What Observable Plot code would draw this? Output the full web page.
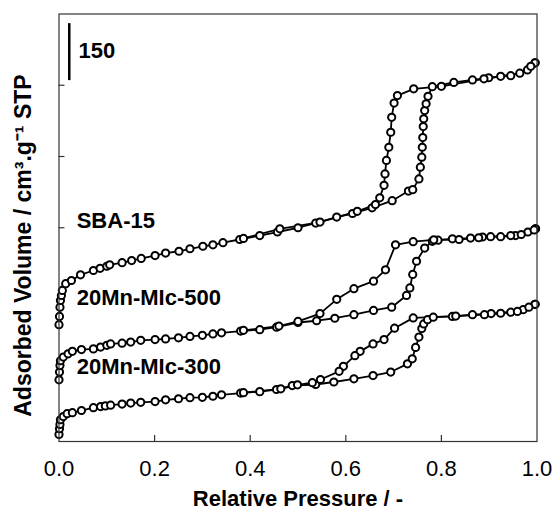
<!DOCTYPE html>
<html><head><meta charset="utf-8">
<script src="https://cdn.jsdelivr.net/npm/d3@7"></script>
<script src="https://cdn.jsdelivr.net/npm/@observablehq/plot@0.6"></script>
<style>body{margin:0;background:#fff}</style>
</head><body><div id="chart"></div>
<script>
// Relative pressure P/P0 and adsorbed volume (offset, arbitrary units)
const sba15AdsP = [0.000,0.001,0.002,0.003,0.005,0.007,0.014,0.026,0.045,0.072,0.086,0.100,0.106,0.132,0.152,0.172,0.201,0.223,0.251,0.274,0.301,0.322,0.343,0.378,0.420,0.457,0.500,0.537,0.581,0.614,0.655,0.697,0.731,0.740,0.753,0.756,0.759,0.760,0.761,0.762,0.763,0.765,0.768,0.772,0.781,0.826,0.865,0.899,0.945,0.980,0.996];
const sba15AdsV = [328,351,377,396,410,424,443,452,468,480,486,492,496,502,508,514,522,529,534,541,548,552,558,567,578,588,600,613,630,640,656,676,703,707,737,770,798,826,853,884,906,929,948,969,996,1008,1015,1021,1027,1043,1063];
const sba15DesP = [0.996,0.987,0.964,0.924,0.889,0.800,0.742,0.708,0.701,0.696,0.694,0.690,0.685,0.682,0.680,0.671,0.662,0.624,0.546,0.462,0.386];
const sba15DesV = [1063,1053,1034,1025,1018,997,990,971,950,910,868,826,789,751,719,684,665,646,616,597,570];

const mn500AdsP = [0.000,0.001,0.002,0.003,0.009,0.019,0.028,0.047,0.072,0.087,0.100,0.108,0.132,0.150,0.171,0.201,0.223,0.250,0.274,0.300,0.322,0.340,0.380,0.420,0.455,0.500,0.539,0.577,0.617,0.658,0.696,0.727,0.734,0.740,0.748,0.765,0.781,0.793,0.823,0.861,0.886,0.924,0.955,0.981,0.997];
const mn500AdsV = [173,195,213,227,237,246,253,258,260,265,270,274,276,279,284,286,288,291,295,298,302,305,310,314,321,334,339,346,356,368,377,410,431,469,506,543,562,565,569,571,574,575,578,588,597];
const mn500DesP = [0.997,0.994,0.967,0.945,0.903,0.878,0.837,0.784,0.741,0.704,0.683,0.658,0.617,0.581,0.546,0.500,0.460,0.386];
const mn500DesV = [597,594,581,578,575,572,567,566,561,552,482,450,429,399,359,337,324,312];

const mn300AdsP = [0.000,0.001,0.002,0.003,0.009,0.017,0.028,0.047,0.072,0.087,0.097,0.108,0.132,0.150,0.171,0.201,0.223,0.250,0.274,0.300,0.322,0.340,0.380,0.420,0.455,0.488,0.537,0.575,0.617,0.657,0.694,0.729,0.739,0.746,0.753,0.759,0.763,0.771,0.783,0.823,0.865,0.904,0.945,0.971,0.996];
const mn300AdsV = [20,36,48,61,70,78,81,87,95,98,100,102,105,108,110,112,117,120,123,124,127,131,136,140,146,157,160,167,176,185,195,218,232,264,293,317,330,342,349,351,356,359,363,370,385];
const mn300DesP = [0.996,0.983,0.959,0.924,0.890,0.830,0.741,0.702,0.680,0.657,0.630,0.619,0.595,0.586,0.547,0.530,0.499,0.464,0.386];
const mn300DesV = [385,377,365,360,356,352,347,318,286,274,253,241,211,197,174,165,159,148,137];

const sampleNames = ["SBA-15", "20Mn-MIc-500", "20Mn-MIc-300"];
const labelP = [0.037, 0.037, 0.037];
const labelV = [620, 404, 208];

const xTicks = [0, 0.2, 0.4, 0.6, 0.8, 1.0];
const xInnerTicks = [0.2, 0.4, 0.6, 0.8];
const yTicks = [600, 800, 1000];
const scaleBarP = 0.0215;
const scaleBarV = [1013, 1173];
const scaleBarLabel = "150";
const scaleBarLabelV = 1096;
const xTitle = "Relative Pressure / -";
const yTitle = "Adsorbed Volume / cm\u00B3.g\u207B\u00B9 STP";

const series = [
  {name: sampleNames[0], branch: "ads", P: sba15AdsP, V: sba15AdsV},
  {name: sampleNames[0], branch: "des", P: sba15DesP, V: sba15DesV},
  {name: sampleNames[1], branch: "ads", P: mn500AdsP, V: mn500AdsV},
  {name: sampleNames[1], branch: "des", P: mn500DesP, V: mn500DesV},
  {name: sampleNames[2], branch: "ads", P: mn300AdsP, V: mn300AdsV},
  {name: sampleNames[2], branch: "des", P: mn300DesP, V: mn300DesV}
];
const rows = series.flatMap(s => s.P.map((p, i) => ({id: s.name + "-" + s.branch, p, v: s.V[i]})));
const labels = sampleNames.map((n, i) => ({n, p: labelP[i], v: labelV[i]}));

const font = "'Liberation Sans', Arial, sans-serif";
const chart = Plot.plot({
  width: 555, height: 510,
  marginLeft: 58.5, marginRight: 18.5, marginTop: 13.5, marginBottom: 69,
  style: {fontFamily: font, fontSize: "22px", background: "#fff", color: "#000"},
  x: {domain: [0, 1], axis: null},
  y: {domain: [0, 1200], axis: null},
  marks: [
    Plot.ruleY(yTicks, {y: d => d, x1: 0, x2: 0.0125, stroke: "#333", strokeWidth: 1.2}),
    Plot.ruleX(xInnerTicks, {x: d => d, y1: 0, y2: 17, stroke: "#333", strokeWidth: 1.2}),
    Plot.axisX(xTicks, {anchor: "bottom", tickSize: 0, tickPadding: 19, tickFormat: d3.format(".1f"), fontSize: 22, label: null}),
    Plot.line(rows, {x: "p", y: "v", z: "id", stroke: "black", strokeWidth: 1.8}),
    Plot.dot(rows, {x: "p", y: "v", r: 3.6, fill: "white", stroke: "black", strokeWidth: 2}),
    Plot.ruleX([scaleBarP], {x: d => d, y1: scaleBarV[0], y2: scaleBarV[1], stroke: "black", strokeWidth: 2.5}),
    Plot.text([scaleBarLabel], {x: () => 0.041, y: () => scaleBarLabelV, text: d => d, textAnchor: "start", fontWeight: "bold", fontSize: 22}),
    Plot.text(labels, {x: "p", y: "v", text: "n", textAnchor: "start", fontWeight: "bold", fontSize: 22}),
    Plot.text([xTitle], {frameAnchor: "bottom", text: d => d, dy: 64, textAnchor: "middle", fontWeight: "bold", fontSize: 22}),
    Plot.text([yTitle], {frameAnchor: "left", y: () => 550, text: d => d, rotate: -90, dx: -35, textAnchor: "middle", lineAnchor: "middle", fontWeight: "bold", fontSize: 23}),
    Plot.frame({stroke: "#333", strokeWidth: 1.2})
  ]
});
document.getElementById("chart").appendChild(chart);
</script>
</body></html>
